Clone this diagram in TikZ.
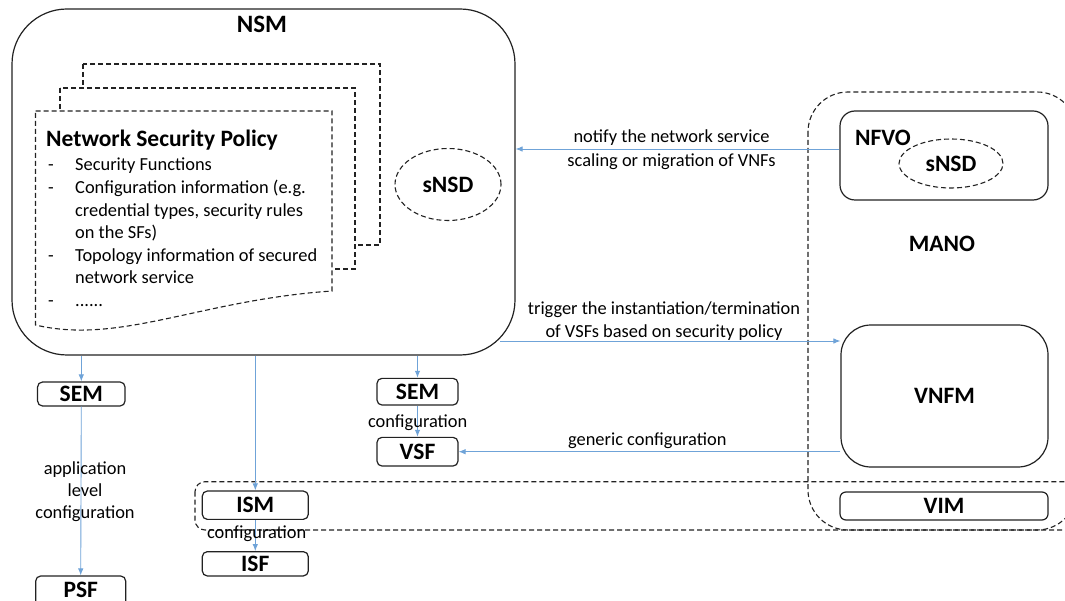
\documentclass[tikz,border=0pt]{standalone}
\usepackage{fontspec}
\setmainfont{Carlito}
\usetikzlibrary{arrows.meta,shapes.geometric,calc}
\definecolor{arrowblue}{HTML}{6FA3D8}
\definecolor{edge}{HTML}{222222}
\begin{document}
\begin{tikzpicture}[x=1pt,y=-1pt,
  solidbox/.style={draw=edge, line width=1.2pt, fill=white, rounded corners=#1, inner sep=0pt},
  dashbox/.style={draw=edge, line width=1.1pt, dash pattern=on 5pt off 3pt},
  lbl/.style={font=\fontsize{23.5}{28}\selectfont\bfseries, inner sep=0pt},
  txt/.style={font=\fontsize{18.4}{23}\selectfont, inner sep=0pt},
  arr/.style={draw=arrowblue, line width=0.9pt, -{Latex[length=7pt,width=5.5pt]}},
]
\useasboundingbox (0,0) rectangle (1065,601);
\fill[white] (0,0) rectangle (1065,601);

% ---- dashed groups ----
\draw[dashbox, rounded corners=10pt] (195,481.7) rectangle (1085,530);
\draw[dashbox, rounded corners=40pt] (808,92) rectangle (1077,530);

% ---- NSM ----
\node[solidbox=55pt, minimum width=503pt, minimum height=346pt] (NSM) at (263.5,182) {};
\node[lbl, font=\fontsize{25}{30}\selectfont\bfseries, anchor=base] (NSMt) at (262,32.7) {NSM};

% policy documents
\draw[dashbox, fill=white] (83,64) rectangle (380,245);
\draw[dashbox, fill=white] (60,88) rectangle (355,269);
\draw[dashbox, fill=white] (35.5,111) -- (332,111) -- (332,291)
   .. controls (200,300) and (120,345) .. (35.5,325) -- cycle;

\node[lbl, anchor=base west] (pt) at (46,146.4) {Network Security Policy};
\node[txt, anchor=base west] (d1) at (48,171) {-};
\node[txt, anchor=base west] (l1) at (75,171) {Security Functions};
\node[txt, anchor=base west] (d2) at (48,193.6) {-};
\node[txt, anchor=base west] (l2) at (75,193.6) {Configuration information (e.g.};
\node[txt, anchor=base west] (l3) at (75,216.2) {credential types, security rules};
\node[txt, anchor=base west] (l4) at (75,238.8) {on the SFs)};
\node[txt, anchor=base west] (d3) at (48,261.4) {-};
\node[txt, anchor=base west] (l5) at (75,261.4) {Topology information of secured};
\node[txt, anchor=base west] (l6) at (75,284) {network service};
\node[txt, anchor=base west] (d4) at (48,306.6) {-};
\node[txt, anchor=base west] (l7) at (75,306.6) {......};

\node[ellipse, draw=edge, line width=1.1pt, dash pattern=on 5pt off 3pt, minimum width=106pt, minimum height=72pt, inner sep=0pt, lbl] (sNSDa) at (448,184.5) {sNSD};

% ---- MANO ----
\node[solidbox=15pt, minimum width=208pt, minimum height=89pt] (NFVO) at (944,155.5) {};
\node[lbl, anchor=base west] (NFVOt) at (855,145.6) {NFVO};
\node[ellipse, draw=edge, line width=1.1pt, dash pattern=on 5pt off 3pt, minimum width=104pt, minimum height=49pt, inner sep=0pt, lbl] (sNSDb) at (951,163.5) {sNSD};
\node[lbl, anchor=base] (MANOt) at (942,252) {MANO};
\node[solidbox=30pt, minimum width=207pt, minimum height=142pt, lbl] (VNFM) at (944.5,396) {VNFM};
\node[solidbox=6pt, minimum width=208pt, minimum height=28pt, lbl] (VIM) at (944,506) {VIM};

% ---- small boxes ----
\node[solidbox=5pt, minimum width=87.5pt, minimum height=24pt, lbl] (SEML) at (81.3,394) {SEM};
\node[solidbox=5pt, minimum width=90pt, minimum height=40pt] (PSF) at (80.7,596) {};
\node[lbl, anchor=base] (PSFt) at (80.7,597) {PSF};
\node[solidbox=5pt, minimum width=106pt, minimum height=28.3pt, lbl] (ISM) at (255.3,505.2) {ISM};
\node[solidbox=5pt, minimum width=106pt, minimum height=24.3pt, lbl] (ISF) at (255.3,563.8) {ISF};
\node[solidbox=5pt, minimum width=81pt, minimum height=26.7pt, lbl] (SEMR) at (417.5,391.7) {SEM};
\node[solidbox=5pt, minimum width=81pt, minimum height=28.7pt, lbl] (VSF) at (417.5,451.7) {VSF};

% ---- connectors ----
\draw[arr] (NFVO.west |- 0,149) -- (NSM.east |- 0,149);
\coordinate (trigS) at (500,341);
\draw[arr] (trigS) -- (VNFM.west |- trigS);
\draw[arr] (VNFM.west |- 0,451.7) -- (VSF.east |- 0,451.7);
\draw[arr] (SEML.north |- NSM.south) -- (SEML.north);
\draw[arr] (ISM.north |- NSM.south) -- (ISM.north);
\draw[arr] (SEMR.north |- NSM.south) -- (SEMR.north);
\draw[arr] (SEML.south) -- (PSF.north);
\draw[arr] (SEMR.south) -- (VSF.north);
\draw[arr] (ISM.south) -- (ISF.north);

% ---- connector labels ----
\node[txt, anchor=base] (n1) at (671.5,142.3) {notify the network service};
\node[txt, anchor=base] (n2) at (671.5,166.8) {scaling or migration of VNFs};
\node[txt, anchor=base] (t1) at (664,315) {trigger the instantiation/termination};
\node[txt, anchor=base] (t2) at (664,337.3) {of VSFs based on security policy};
\node[txt, anchor=base] (g1) at (647.3,445) {generic configuration};
\node[txt, anchor=base] (a1) at (85,474) {application};
\node[txt, anchor=base] (a2) at (85,496) {level};
\node[txt, anchor=base] (a3) at (85,518.3) {configuration};
\node[txt, anchor=base] (c1) at (417.7,427.3) {configuration};
\node[txt, anchor=base] (c2) at (256.7,538.3) {configuration};
\end{tikzpicture}
\end{document}
